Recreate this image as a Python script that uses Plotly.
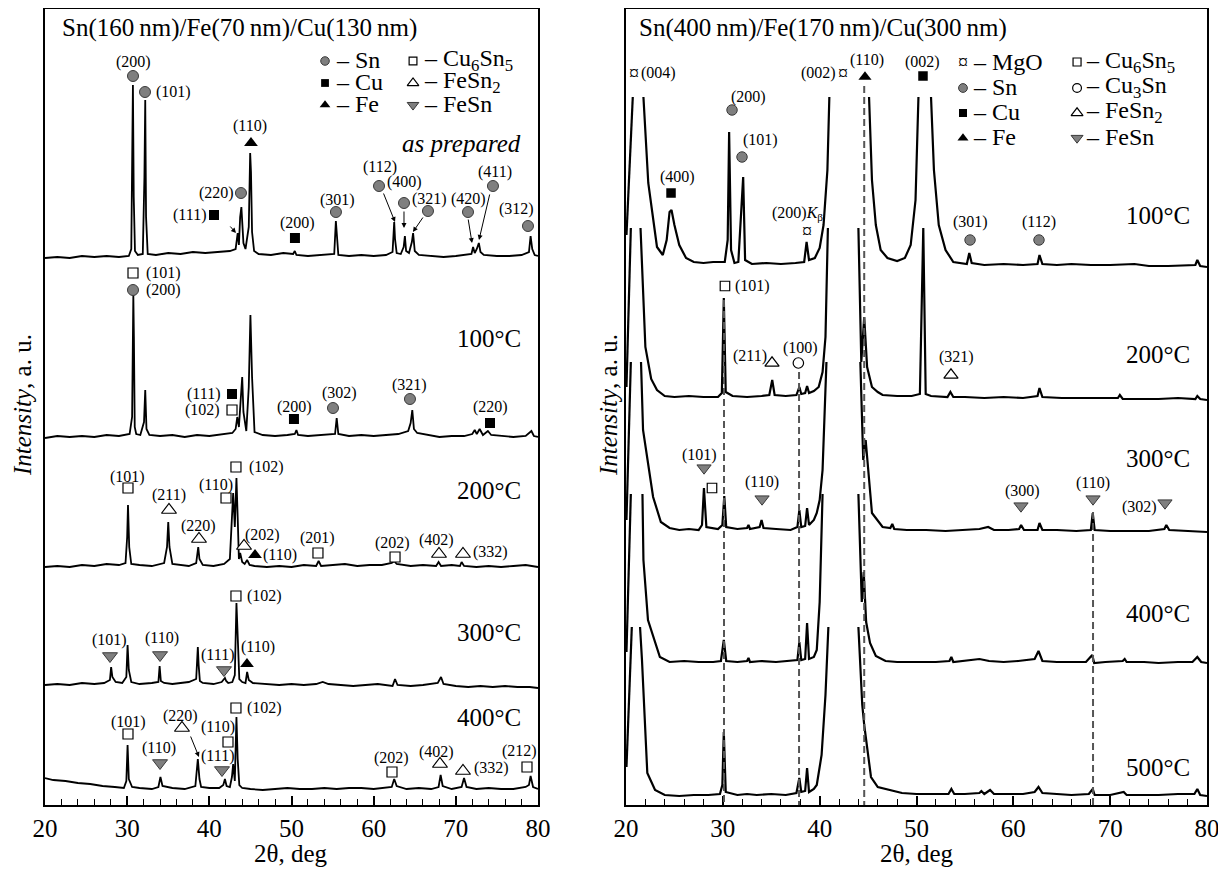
import plotly.graph_objects as go

# ======================= DATA =======================
# Left panel: Sn(160 nm)/Fe(70 nm)/Cu(130 nm); points are (2theta, intensity above own baseline)
L_TEMPS = ["as prepared", "100°C", "200°C", "300°C", "400°C"]
L_OFFSETS = [548, 368, 238, 120, 16]

L0 = [(20.0,-1),(21.5,0),(23.0,-1),(24.5,1),(26.0,0),(27.5,1),(29.0,0),(30.2,1),(30.5,8),(30.62,120),(30.7,172),(30.8,60),(30.95,6),(31.3,2),(31.9,3),(32.1,80),(32.2,157),(32.3,40),(32.5,3),(33.5,2),(35.0,4),(36.5,3),(38.0,5),(39.5,4),(41.0,5),(42.5,6),(43.2,8),(43.45,24),(43.6,12),(43.75,40),(43.9,50),(44.0,30),(44.15,14),(44.4,8),(44.8,30),(44.97,104),(45.07,85),(45.2,25),(45.45,6),(46.0,3),(47.5,2),(49.0,4),(50.2,3),(50.4,6),(50.6,2),(52.0,1),(53.5,2),(55.2,3),(55.4,36),(55.5,20),(55.7,2),(57.0,1),(58.5,2),(60.0,1),(61.5,2),(62.3,5),(62.5,35),(62.6,18),(62.8,4),(63.3,3),(63.65,10),(63.8,21),(63.95,6),(64.3,4),(64.65,15),(64.8,24),(65.0,6),(65.5,2),(67.0,1),(68.5,0),(70.0,1),(71.5,2),(71.9,3),(72.1,10),(72.3,4),(72.55,8),(72.8,14),(73.0,5),(73.4,2),(75.0,1),(76.5,1),(78.0,2),(78.9,5),(79.1,21),(79.3,8),(79.6,2),(80.0,1)]
L1 = [(20.0,-1),(21.5,1),(23.0,0),(24.5,1),(26.0,0),(27.5,2),(29.0,1),(30.3,3),(30.6,20),(30.75,142),(30.82,100),(30.92,10),(31.1,3),(31.6,2),(32.05,15),(32.2,47),(32.35,8),(32.7,2),(34.0,1),(35.5,2),(37.0,0),(38.5,2),(40.0,1),(41.5,3),(42.8,4),(43.2,8),(43.4,20),(43.6,10),(43.85,45),(44.0,60),(44.15,25),(44.5,6),(44.8,50),(45.0,122),(45.2,60),(45.5,5),(46.5,2),(48.0,1),(49.5,2),(50.4,3),(50.6,7),(50.8,2),(52.0,1),(53.5,2),(55.3,3),(55.5,19),(55.7,3),(57.0,1),(58.5,2),(60.0,1),(61.5,2),(63.0,3),(64.2,6),(64.5,14),(64.7,27),(64.9,8),(65.3,4),(66.5,2),(68.0,0),(69.5,1),(71.0,1),(72.0,3),(72.3,7),(72.55,3),(72.9,8),(73.3,2),(73.9,6),(74.3,2),(75.5,1),(77.0,0),(78.5,1),(79.2,6),(79.5,1),(80.0,0)]
L2 = [(20.0,0),(21.5,1),(23.0,0),(24.5,2),(26.0,1),(27.5,3),(29.0,2),(29.8,4),(30.0,30),(30.1,62),(30.25,20),(30.5,3),(31.5,2),(33.0,1),(34.5,4),(34.85,20),(35.0,45),(35.15,20),(35.5,3),(36.5,2),(37.5,1),(38.4,4),(38.65,20),(38.8,8),(39.2,2),(40.5,1),(41.8,3),(42.5,8),(42.75,60),(42.9,74),(43.1,40),(43.3,89),(43.45,50),(43.6,8),(43.75,14),(44.0,5),(44.3,3),(44.6,7),(44.9,2),(45.5,1),(47.0,0),(48.5,1),(50.0,0),(51.5,2),(53.0,1),(53.3,6),(53.6,1),(55.0,2),(56.5,3),(58.0,1),(59.5,2),(61.0,2),(62.2,4),(62.5,6),(62.8,3),(64.5,1),(66.0,2),(67.6,1),(67.9,5),(68.2,1),(69.5,2),(70.5,1),(70.7,5),(71.0,1),(72.5,0),(74.0,1),(75.5,0),(77.0,1),(78.5,2),(80.0,0)]
L3 = [(20.0,0),(21.5,1),(23.0,0),(24.5,2),(26.0,1),(27.2,2),(27.9,5),(28.05,18),(28.2,8),(28.6,3),(29.4,2),(29.9,8),(30.05,40),(30.2,15),(30.5,3),(31.5,1),(33.0,2),(33.8,3),(33.95,19),(34.1,4),(34.5,2),(35.5,1),(36.5,2),(37.5,3),(38.4,6),(38.6,38),(38.7,20),(38.85,4),(39.2,2),(40.5,1),(41.5,3),(41.9,7),(42.05,4),(42.3,2),(42.8,3),(43.1,10),(43.3,82),(43.45,40),(43.65,6),(44.0,3),(44.4,2),(44.6,13),(44.8,5),(45.3,2),(47.0,1),(48.5,0),(50.0,1),(51.5,0),(53.0,1),(53.8,3),(54.5,1),(56.0,0),(57.5,-1),(59.0,0),(60.5,1),(62.3,-1),(62.6,6),(62.9,0),(64.5,-1),(66.0,0),(67.8,2),(68.2,8),(68.5,1),(70.0,-1),(71.5,-2),(73.0,-1),(74.5,-2),(76.0,-1),(77.5,-2),(79.0,-2),(80.0,-3)]
L4 = [(20.0,11),(21.0,9),(22.5,8),(24.0,6),(25.5,5),(27.0,3),(28.5,2),(29.6,1),(29.9,8),(30.05,44),(30.2,10),(30.6,2),(31.5,1),(33.0,0),(33.8,2),(34.05,12),(34.3,3),(35.5,1),(37.0,0),(38.3,3),(38.6,30),(38.8,10),(39.0,2),(40.0,1),(41.2,1),(41.7,4),(41.9,10),(42.1,3),(42.5,2),(42.75,12),(42.9,25),(43.1,8),(43.3,72),(43.45,30),(43.65,4),(44.0,1),(45.0,0),(46.5,-1),(48.0,0),(49.5,1),(51.0,0),(52.5,0),(54.0,1),(55.5,0),(57.0,1),(58.5,1),(60.0,0),(61.5,1),(62.2,2),(62.5,10),(62.8,3),(64.0,0),(65.5,1),(67.0,0),(67.9,2),(68.15,14),(68.4,3),(69.5,0),(70.7,2),(71.0,11),(71.3,2),(72.5,0),(74.0,1),(75.5,0),(77.0,0),(78.5,2),(78.9,4),(79.1,13),(79.4,2),(80.0,0)]

# Right panel: Sn(400 nm)/Fe(170 nm)/Cu(300 nm); (None, None) = break where curve is cut off
R_TEMPS = ["100°C", "200°C", "300°C", "400°C", "500°C"]
R_OFFSETS = [542, 408, 275, 143, 10]

R0 = [(20.05,28),(20.7,166),(None,None),(21.8,166),(22.3,80),(23.2,16),(23.8,8),(24.2,23),(24.5,51),(24.7,53),(25.0,38),(25.5,18),(26.2,5),(27.0,1),(28.0,0),(29.0,1),(30.2,1),(30.5,23),(30.65,131),(30.85,13),(31.2,0),(31.6,1),(31.95,53),(32.1,86),(32.3,3),(33.0,-1),(34.5,0),(36.0,-1),(37.5,0),(38.4,1),(38.65,21),(38.9,3),(39.5,5),(40.0,15),(40.4,38),(40.8,93),(41.0,166),(None,None),(45.1,166),(45.4,83),(45.8,38),(46.3,13),(47.0,5),(48.0,2),(48.8,5),(49.4,18),(49.9,63),(50.2,166),(None,None),(51.5,166),(51.8,93),(52.3,38),(53.0,13),(53.8,1),(55.2,-1),(55.45,10),(55.7,0),(57.0,-2),(59.0,-1),(61.0,-2),(62.5,-1),(62.7,8),(63.0,-1),(64.5,-2),(66.0,-1),(68.0,-2),(70.0,-2),(72.5,-1),(74.0,-3),(76.0,-3),(78.8,-2),(79.0,3),(79.3,-3),(80.0,-4)]
R1 = [(20.05,10),(20.5,169),(None,None),(21.5,169),(22.0,50),(22.6,18),(23.2,7),(24.0,1),(25.0,0),(26.5,1),(28.0,0),(29.5,0),(29.9,4),(30.1,99),(30.3,5),(31.0,1),(32.5,0),(34.0,1),(34.8,2),(35.1,17),(35.35,2),(36.5,1),(37.6,2),(37.9,10),(38.1,3),(38.5,4),(38.7,11),(38.9,4),(39.4,6),(39.9,10),(40.3,25),(40.6,60),(40.85,169),(None,None),(44.0,169),(44.3,35),(44.6,80),(44.9,30),(45.4,10),(46.0,5),(46.5,2),(48.0,1),(49.5,1),(50.35,3),(50.7,169),(50.95,3),(51.5,1),(53.2,0),(53.5,5),(53.8,0),(55.0,0),(57.0,-1),(59.0,0),(61.0,-1),(62.5,1),(62.7,9),(63.0,0),(65.0,-1),(67.0,-1),(69.0,-1),(70.8,-1),(71.0,2),(71.3,-2),(73.0,-2),(75.0,-2),(77.0,-1),(78.8,-2),(79.0,1),(79.3,-2),(80.0,-3)]
R2 = [(20.05,10),(20.5,168),(None,None),(21.55,168),(21.76,100),(22.8,33),(23.6,8),(24.5,2),(25.5,0),(26.5,1),(27.5,0),(27.85,5),(28.05,42),(28.3,3),(29.5,1),(29.95,5),(30.15,34),(30.35,3),(31.5,1),(32.5,2),(32.65,5),(32.8,1),(33.8,3),(34.0,10),(34.2,2),(35.5,1),(37.0,0),(37.7,3),(37.9,20),(38.1,3),(38.5,4),(38.7,22),(38.9,5),(39.4,10),(39.7,17),(40.0,30),(40.3,60),(40.7,168),(None,None),(44.2,168),(44.5,70),(44.75,90),(45.0,60),(45.4,17),(46.5,3),(47.3,2),(47.5,6),(47.7,1),(49.0,0),(51.0,0),(53.0,-1),(55.0,0),(56.5,1),(57.4,3),(58.0,0),(59.5,0),(60.6,1),(60.8,5),(61.1,0),(62.5,0),(62.7,7),(63.0,0),(64.5,0),(66.5,-1),(68.0,0),(68.2,17),(68.4,0),(70.0,-1),(72.0,-1),(74.0,-1),(75.6,1),(75.8,5),(76.1,0),(78.0,-1),(80.0,-2)]
R3 = [(20.05,10),(20.5,168),(None,None),(21.7,168),(21.8,102),(22.27,42),(23.5,5),(24.5,0),(26.0,1),(27.5,0),(29.0,0),(29.8,1),(30.1,22),(30.35,1),(31.5,0),(32.5,1),(32.65,4),(32.8,0),(34.0,1),(35.5,0),(37.0,1),(37.7,2),(37.9,20),(38.1,2),(38.5,3),(38.7,39),(38.9,3),(39.4,5),(39.7,12),(40.0,60),(40.3,168),(None,None),(44.0,168),(44.35,60),(44.55,90),(44.8,40),(45.2,19),(45.8,6),(46.8,1),(48.0,0),(50.0,0),(52.0,0),(53.4,1),(53.6,5),(53.8,0),(55.0,1),(56.5,3),(57.5,1),(59.0,0),(60.5,1),(62.2,3),(62.6,11),(63.0,1),(64.5,0),(66.0,0),(67.5,0),(68.15,7),(68.35,-1),(69.5,0),(71.3,1),(71.5,3),(71.7,0),(73.5,0),(75.0,-1),(77.0,0),(78.5,0),(79.0,5),(79.4,0),(80.0,-1)]
R4 = [(20.05,28),(20.6,168),(None,None),(21.45,168),(21.65,135),(22.2,22),(23.0,5),(24.0,0),(25.5,-1),(27.0,0),(28.5,0),(29.7,1),(29.95,10),(30.1,63),(30.3,3),(31.5,0),(32.5,1),(33.5,0),(35.0,1),(36.5,0),(37.6,2),(37.9,17),(38.1,3),(38.5,4),(38.7,27),(38.9,3),(39.4,6),(39.7,10),(40.2,40),(40.6,100),(40.9,168),(None,None),(44.0,168),(44.4,90),(44.6,70),(44.9,48),(45.3,18),(46.0,8),(47.3,5),(48.5,2),(50.0,1),(51.5,1),(53.3,1),(53.6,6),(53.9,1),(55.0,1),(56.5,2),(56.7,4),(57.0,1),(57.6,5),(58.0,1),(59.5,1),(61.0,1),(62.2,3),(62.6,8),(63.0,2),(64.5,1),(66.0,0),(67.8,1),(68.2,6),(68.4,0),(70.0,0),(71.4,3),(71.7,0),(73.5,0),(75.0,0),(77.0,1),(78.7,1),(79.0,6),(79.3,0),(80.0,-1)]

X_TICKS = [20, 30, 40, 50, 60, 70, 80]
L_TITLE = "Sn(160\u2009nm)/Fe(70\u2009nm)/Cu(130\u2009nm)"
R_TITLE = "Sn(400\u2009nm)/Fe(170\u2009nm)/Cu(300\u2009nm)"

# ======================= LAYOUT / STYLE =======================
FONT = "Liberation Serif, Times New Roman, serif"
BODY = 8                       # page body margin of the browser
W, H = 1226 - BODY, 872 - BODY
PLOT_L, PLOT_R, PLOT_T, PLOT_B = 45, 1207, 9, 805   # window pixels of the plotting area
ML, MR, MT, MB = PLOT_L - BODY, W - (PLOT_R - BODY), PLOT_T - BODY, H - (PLOT_B - BODY)
def Y(py):
    return PLOT_B - py

fig = go.Figure()

def add_curves(curves, offsets, xa, ya, lw):
    for pts, off in zip(curves, offsets):
        xs = [p[0] for p in pts]
        ys = [None if p[1] is None else p[1] + off for p in pts]
        fig.add_trace(go.Scatter(x=xs, y=ys, mode="lines", xaxis=xa, yaxis=ya,
                                 line=dict(color="black", width=lw), showlegend=False,
                                 hoverinfo="skip", connectgaps=False))

add_curves([L0, L1, L2, L3, L4], L_OFFSETS, "x", "y", 1.8)
add_curves([R0, R1, R2, R3, R4], R_OFFSETS, "x2", "y2", 2.2)

GRAY = "#7f7f7f"
MSTYLE = {
    "sn":    dict(symbol="circle", color=GRAY, line=dict(color="#3a3a3a", width=1)),
    "cu":    dict(symbol="square", color="black", line=dict(color="black", width=0)),
    "fe":    dict(symbol="triangle-up", color="black", line=dict(color="black", width=0)),
    "cu6":   dict(symbol="square", color="white", line=dict(color="black", width=1.2)),
    "fesn2": dict(symbol="triangle-up", color="white", line=dict(color="black", width=1.2)),
    "fesn":  dict(symbol="triangle-down", color=GRAY, line=dict(color="#3a3a3a", width=1)),
    "cu3":   dict(symbol="circle", color="white", line=dict(color="black", width=1.2)),
}
MSIZE = {"sn": 11, "cu": 10, "fe": 12, "cu6": 10, "fesn2": 13, "fesn": 13, "cu3": 11}

# marker placements: (phase, 2theta, window-pixel-y)
L_MARKS = [
    ("sn",30.71,76),("sn",32.17,92),("fe",45.07,143),("sn",43.85,193),("cu",40.57,215),("cu",50.42,238),
    ("sn",55.41,212),("sn",60.65,186),("sn",63.69,203),("sn",66.61,211),("sn",71.48,212),("sn",74.52,186),("sn",78.78,226),
    ("cu6",30.71,273),("sn",30.71,290),("cu",42.76,394),("cu6",42.76,410),("cu",50.3,419),("sn",55.05,408),("sn",64.42,399),("cu",74.16,423),
    ("cu6",30.1,488),("fesn2",35.09,510),("fesn2",38.74,539),("cu6",42.03,498),("cu6",43.24,467),("fesn2",44.22,546),("fe",45.56,555),
    ("cu6",53.22,553),("cu6",62.6,557),("fesn2",67.95,554),("fesn2",70.87,554),
    ("fesn",27.91,656),("fesn",34.0,655),("fesn",41.78,670),("cu6",43.24,596),("fe",44.58,664),
    ("cu6",30.1,734),("fesn",34.0,763),("fesn2",36.67,728),("cu6",42.27,742),("fesn",41.54,770),("cu6",43.24,708),
    ("cu6",62.23,772),("fesn2",68.07,764),("fesn2",70.87,771),("cu6",78.66,767),
]
L_LEG = [("sn",54.08,61),("cu",54.08,83),("fe",54.08,105),("cu6",64.79,61),("fesn2",64.79,83),("fesn",64.79,105)]
R_MARKS = [
    ("fe",44.68,77),("cu",50.67,76),("sn",30.95,110),("sn",31.98,157),("cu",24.65,193),("sn",55.53,240),("sn",62.65,240),
    ("cu6",30.22,286),("fesn2",35.08,363),("cu3",37.8,363),("fesn2",53.56,375),
    ("fesn",28.06,468),("cu6",28.88,488),("fesn",34.05,499),("fesn",60.79,506),("fesn",68.23,499),("fesn",75.66,503),
]
R_LEG = [("sn",54.8,88),("cu",54.8,113),("fe",54.8,138),("cu6",66.58,62),("cu3",66.58,88),("fesn2",66.58,113),("fesn",66.58,138)]

def add_marks(marks, xa, ya, scale=1.0):
    for key in MSTYLE:
        sel = [m for m in marks if m[0] == key]
        if not sel:
            continue
        st = MSTYLE[key]
        fig.add_trace(go.Scatter(x=[m[1] for m in sel], y=[Y(m[2]) for m in sel], mode="markers",
                                 xaxis=xa, yaxis=ya, showlegend=False, hoverinfo="skip",
                                 marker=dict(symbol=st["symbol"], color=st["color"], line=st["line"],
                                             size=MSIZE[key] * scale)))

add_marks(L_MARKS, "x", "y")
add_marks(L_LEG, "x", "y", 0.78)
add_marks(R_MARKS, "x2", "y2", 0.95)
add_marks(R_LEG, "x2", "y2", 0.8)

ann = []
def T(text, x, py, panel, anchor="center", size=16, italic=False):
    ax = "x" if panel == 0 else "x2"
    ayr = "y" if panel == 0 else "y2"
    if italic:
        text = "<i>" + text + "</i>"
    ann.append(dict(text=text, x=x, y=Y(py), xref=ax, yref=ayr, xanchor=anchor, yanchor="middle",
                    showarrow=False, font=dict(family=FONT, size=size, color="black")))

def A(x, py, tx, tpy):
    ann.append(dict(text="", x=x, y=Y(py), ax=tx, ay=Y(tpy), xref="x", yref="y", axref="x", ayref="y",
                    showarrow=True, arrowhead=2, arrowsize=1, arrowwidth=1, arrowcolor="black"))

# ---- left panel texts ----
L_HKL = [
    ("(200)",30.71,62,"center"),("(101)",33.3,92,"left"),("(110)",45.0,126,"center"),("(220)",43.3,193,"right"),
    ("(111)",39.8,215,"right"),("(200)",50.67,223,"center"),("(301)",55.54,200,"center"),("(112)",60.77,167,"center"),
    ("(400)",63.8,182,"center"),("(321)",66.85,199,"center"),("(420)",71.6,199,"center"),("(411)",74.76,172,"center"),
    ("(312)",77.44,209,"center"),
    ("(101)",32.0,273,"left"),("(200)",32.0,290,"left"),("(111)",41.6,394,"right"),("(102)",41.6,410,"right"),
    ("(200)",50.42,407,"center"),("(302)",55.9,393,"center"),("(321)",64.42,385,"center"),("(220)",74.16,407,"center"),
    ("(101)",30.1,477,"center"),("(211)",35.09,495,"center"),("(220)",38.74,526,"center"),("(110)",40.81,485,"center"),
    ("(102)",44.6,467,"left"),("(202)",46.41,535,"center"),("(110)",46.3,555,"left"),("(201)",53.22,538,"center"),
    ("(202)",62.35,543,"center"),("(402)",67.7,540,"center"),("(332)",71.84,552,"left"),
    ("(101)",27.91,640,"center"),("(110)",34.24,638,"center"),("(111)",41.05,655,"center"),("(102)",44.3,596,"left"),
    ("(110)",45.92,647,"center"),
    ("(101)",30.22,722,"center"),("(110)",33.87,748,"center"),("(220)",36.43,716,"center"),("(110)",41.05,727,"center"),
    ("(111)",41.05,756,"center"),("(102)",44.4,708,"left"),("(202)",62.23,758,"center"),("(402)",67.7,752,"center"),
    ("(332)",71.97,768,"left"),("(212)",77.69,751,"center"),
]
for t, x, py, an in L_HKL:
    T(t, x, py, 0, an)

A(43.24, 233, 42.39, 225)
A(62.6, 222, 61.13, 192)
A(63.69, 228, 63.69, 210)
A(64.78, 232, 66.12, 216)
A(71.97, 243, 71.48, 218)
A(72.82, 240, 74.16, 193)
A(38.74, 757, 37.65, 735)

BIG = 25
LEG = 24
T(L_TITLE, 21.8, 28, 0, "left", BIG)
T("– Sn", 55.2, 60, 0, "left", LEG)
T("– Cu", 55.2, 82, 0, "left", LEG)
T("– Fe", 55.2, 104, 0, "left", LEG)
T("– Cu<sub>6</sub>Sn<sub>5</sub>", 65.9, 60, 0, "left", LEG)
T("– FeSn<sub>2</sub>", 65.9, 82, 0, "left", LEG)
T("– FeSn", 65.9, 104, 0, "left", LEG)
T("as prepared", 78.2, 143, 0, "right", BIG, italic=True)
for t, py in zip(L_TEMPS[1:], [338, 490, 632, 717]):
    T(t, 78.2, py, 0, "right", BIG)

# ---- right panel texts ----
R_HKL = [
    ("(004)",21.3,73,"left"),("(002)",41.9,73,"right"),("(110)",44.9,60,"center"),("(002)",50.57,62,"center"),
    ("(200)",32.6,97,"center"),("(101)",33.84,140,"center"),("(400)",25.27,177,"center"),
    ("(200)<i>K</i><sub>β</sub>",37.66,213,"center"),
    ("(301)",55.53,222,"center"),("(112)",62.65,222,"center"),
    ("(101)",31.1,286,"left"),("(211)",32.81,356,"center"),("(100)",37.97,348,"center"),("(321)",54.18,357,"center"),
    ("(101)",27.64,455,"center"),("(110)",34.05,482,"center"),("(300)",60.9,491,"center"),("(110)",68.23,483,"center"),
    ("(302)",73.08,507,"center"),
]
for t, x, py, an in R_HKL:
    T(t, x, py, 1, an)
# MgO symbols
for x, py in [(20.85, 73), (42.45, 73), (38.69, 231), (54.8, 62)]:
    T("¤", x, py, 1, "center", 20)

T(R_TITLE, 21.1, 28, 1, "left", BIG)
T("– MgO", 55.6, 62, 1, "left", LEG)
T("– Sn", 55.6, 87, 1, "left", LEG)
T("– Cu", 55.6, 112, 1, "left", LEG)
T("– Fe", 55.6, 137, 1, "left", LEG)
T("– Cu<sub>6</sub>Sn<sub>5</sub>", 67.3, 62, 1, "left", LEG)
T("– Cu<sub>3</sub>Sn", 67.3, 87, 1, "left", LEG)
T("– FeSn<sub>2</sub>", 67.3, 112, 1, "left", LEG)
T("– FeSn", 67.3, 137, 1, "left", LEG)
for t, py in zip(R_TEMPS, [215, 354, 458, 613, 767]):
    T(t, 78.45, py, 1, "right", BIG)

# axis titles (paper coordinates)
PW = W - ML - MR
PH = H - MT - MB
def PX(px):
    return (px - PLOT_L) / PW
def PY(py):
    return (PLOT_B - py) / PH
for cx in [22, 608]:
    ann.append(dict(text="<i>Intensity</i>, a. u.", x=PX(cx), y=PY(405), xref="paper", yref="paper",
                    textangle=-90, showarrow=False, xanchor="center", yanchor="middle", borderpad=0,
                    font=dict(family=FONT, size=BIG, color="black")))
for cx in [291, 917]:
    ann.append(dict(text="2θ, deg", x=PX(cx), y=PY(853), xref="paper", yref="paper",
                    showarrow=False, xanchor="center", yanchor="middle",
                    font=dict(family=FONT, size=BIG, color="black")))

# dashed guide lines (right panel)
shapes = []
for x0, ptop in [(30.12, 300), (37.87, 372), (44.6, 86), (68.23, 512)]:
    shapes.append(dict(type="line", xref="x2", yref="y2", x0=x0, x1=x0, y0=Y(ptop), y1=0,
                       line=dict(color="#555555", width=2, dash="7px,4px"), layer="above"))

xcommon = dict(range=[20, 80], tickvals=X_TICKS, ticks="inside", ticklen=9, tickwidth=1.5, tickcolor="black",
               showline=True, linecolor="black", linewidth=2, mirror=True, showgrid=False, zeroline=False,
               tickfont=dict(family=FONT, size=BIG, color="black"),
               minor=dict(dtick=2, ticks="inside", ticklen=6, tickwidth=1.2, tickcolor="black", showgrid=False))
ycommon = dict(range=[0, PLOT_B - PLOT_T], showticklabels=False, ticks="", showline=True, linecolor="black",
               linewidth=2, mirror=True, showgrid=False, zeroline=False)

fig.update_layout(
    width=W, height=H, margin=dict(l=ML, r=MR, t=MT, b=MB, autoexpand=False),
    paper_bgcolor="white", plot_bgcolor="white", showlegend=False,
    xaxis=dict(domain=[0, PX(538)], anchor="y", **xcommon),
    xaxis2=dict(domain=[PX(626), 1.0], anchor="y2", **xcommon),
    yaxis=dict(domain=[0, 1], anchor="x", **ycommon),
    yaxis2=dict(domain=[0, 1], anchor="x2", **ycommon),
    annotations=ann, shapes=shapes,
)

fig.write_html("out.html")
